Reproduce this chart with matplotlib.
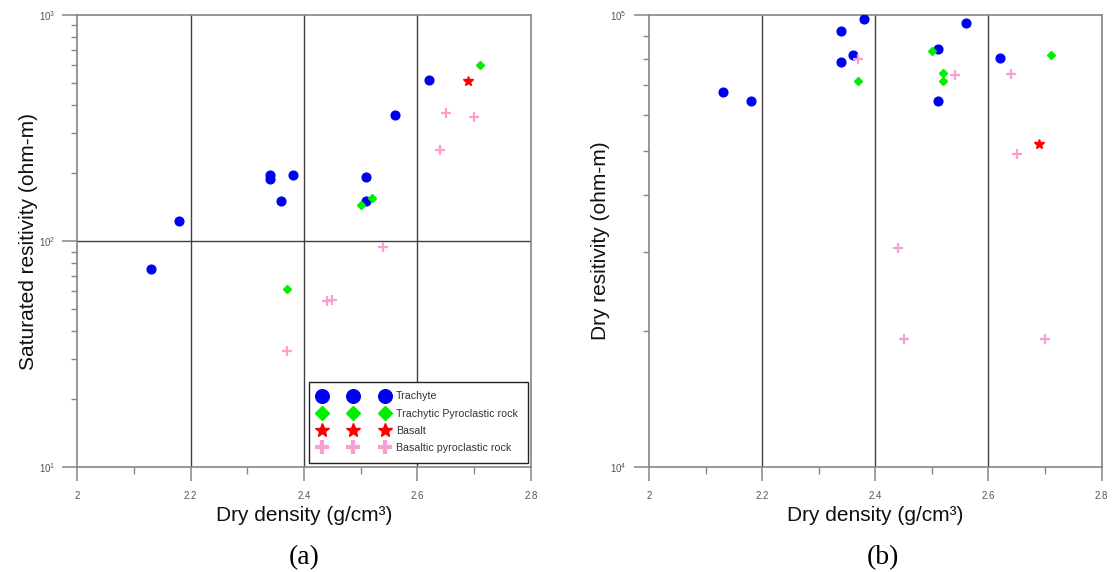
import matplotlib
matplotlib.use("Agg")
import matplotlib.pyplot as plt
from matplotlib.lines import Line2D
from matplotlib.ticker import LogLocator, NullFormatter, FixedLocator, FixedFormatter, MultipleLocator

plt.rcParams['font.family'] = ['Liberation Sans', 'DejaVu Sans']
plt.rcParams['mathtext.fontset'] = 'custom'
plt.rcParams['mathtext.rm'] = 'Liberation Sans'

# --- data -----------------------------------------------------------------
trachyte_density = [2.13, 2.18, 2.34, 2.34, 2.36, 2.38, 2.51, 2.51, 2.56, 2.62]
trachyte_saturated = [75, 123, 196, 188, 151, 196, 192, 150, 361, 516]
trachyte_dry = [67600, 64400, 92000, 78700, 81700, 98100, 84000, 64400, 96200, 80300]

pyro_trachytic_density_sat = [2.37, 2.50, 2.52, 2.71]
pyro_trachytic_saturated = [61.7, 144.5, 155, 600]
pyro_trachytic_density_dry = [2.37, 2.50, 2.52, 2.52, 2.71]
pyro_trachytic_dry = [71300, 83300, 74300, 71600, 81700]

basalt_density = [2.69]
basalt_saturated = [513]
basalt_dry = [51900]

pyro_basaltic_density = [2.37, 2.44, 2.45, 2.54, 2.64, 2.65, 2.70]
pyro_basaltic_saturated = [32.8, 54.2, 55.1, 94.3, 252, 370, 355]
pyro_basaltic_dry = [80000, 30600, 19200, 73600, 74100, 49400, 19200]

series_names = ["Trachyte", "Trachytic Pyroclastic rock", "Basalt",
                "Basaltic pyroclastic rock"]

x_ticks = [2.0, 2.2, 2.4, 2.6, 2.8]
x_tick_labels = ["2", "2.2", "2.4", "2.6", "2.8"]
y_ticks_a = [10, 100, 1000]
y_tick_labels_a = [r"$\mathdefault{10^{1}}$", r"$\mathdefault{10^{2}}$", r"$\mathdefault{10^{3}}$"]
y_ticks_b = [1e4, 1e5]
y_tick_labels_b = [r"$\mathdefault{10^{4}}$", r"$\mathdefault{10^{5}}$"]

# --- styling --------------------------------------------------------------
BLUE = "#0000f0"
GREEN = "#00ee00"
RED = "#ff0000"
PINK = "#f8a0d0"
SPINE = "#858585"
GRID = "#404040"

fig = plt.figure(figsize=(11.13, 5.72), dpi=100)
ax_a = fig.add_axes([0.0695, 0.183, 0.4074, 0.7907])
ax_b = fig.add_axes([0.5831, 0.183, 0.4067, 0.7907])


def style_axes(ax, yticks, ylabels, ylim, ylabel, hgrid):
    ax.set_xlim(2.0, 2.8)
    ax.set_yscale("log")
    ax.set_ylim(*ylim)
    ax.xaxis.set_major_locator(FixedLocator(x_ticks))
    ax.xaxis.set_major_formatter(FixedFormatter(x_tick_labels))
    ax.xaxis.set_minor_locator(MultipleLocator(0.1))
    ax.yaxis.set_major_locator(FixedLocator(yticks))
    ax.yaxis.set_major_formatter(FixedFormatter(ylabels))
    ax.yaxis.set_minor_locator(LogLocator(base=10, subs=range(2, 10)))
    ax.yaxis.set_minor_formatter(NullFormatter())
    for s in ax.spines.values():
        s.set_color(SPINE)
        s.set_linewidth(1.2)
    ax.tick_params(axis="x", which="major", direction="out", length=10.4,
                   width=1.1, color=SPINE, labelsize=7, labelcolor="#555555", pad=7)
    ax.tick_params(axis="x", which="minor", direction="out", length=4.8,
                   width=1.0, color=SPINE)
    ax.tick_params(axis="y", which="major", direction="out", length=11,
                   width=1.1, color=SPINE, labelsize=7, labelcolor="#555555", pad=5)
    ax.tick_params(axis="y", which="minor", direction="out", length=4.2,
                   width=1.0, color=SPINE)
    for xv in x_ticks[1:-1]:
        ax.axvline(xv, color=GRID, lw=1.0, zorder=1)
    if hgrid is not None:
        ax.axhline(hgrid, color=GRID, lw=1.0, zorder=1)
    ax.set_xlabel("Dry density (g/cm³)", fontsize=15, color="#111111")
    ax.set_ylabel(ylabel, fontsize=15, color="#111111")
    ax.xaxis.set_label_coords(0.5, -0.085)
    ax.yaxis.set_label_coords(-0.087, 0.5)


style_axes(ax_a, y_ticks_a, y_tick_labels_a, (10, 1000),
           "Saturated resitivity (ohm-m)", 100)
style_axes(ax_b, y_ticks_b, y_tick_labels_b, (1e4, 1e5),
           "Dry resitivity (ohm-m)", None)


def draw_points(ax, tx, ty, gx, gy, bx, by, px, py):
    ax.plot(tx, ty, ls="none", marker="o", ms=6.3, mfc=BLUE, mec=BLUE, zorder=3)
    ax.plot(gx, gy, ls="none", marker="D", ms=4.5, mfc=GREEN, mec=GREEN, zorder=4)
    ax.plot(bx, by, ls="none", marker="*", ms=7.5, mfc=RED, mec=RED, zorder=5)
    ax.plot(px, py, ls="none", marker="+", ms=7.5, mew=1.6, color=PINK, zorder=5)


draw_points(ax_a, trachyte_density, trachyte_saturated,
            pyro_trachytic_density_sat, pyro_trachytic_saturated,
            basalt_density, basalt_saturated,
            pyro_basaltic_density, pyro_basaltic_saturated)
draw_points(ax_b, trachyte_density, trachyte_dry,
            pyro_trachytic_density_dry, pyro_trachytic_dry,
            basalt_density, basalt_dry,
            pyro_basaltic_density, pyro_basaltic_dry)

# legend with three symbols per entry
handles = [
    Line2D([], [], ls="none", marker="o", ms=9.8, mfc=BLUE, mec=BLUE),
    Line2D([], [], ls="none", marker="D", ms=6.8, mfc=GREEN, mec=GREEN),
    Line2D([], [], ls="none", marker="*", ms=10, mfc=RED, mec=RED),
    Line2D([], [], ls="none", marker="+", ms=10, mew=3.0, color=PINK),
]
leg = ax_a.legend(handles, series_names, numpoints=3, loc="lower right",
                  bbox_to_anchor=(0.993, 0.010), borderaxespad=0,
                  fontsize=7.7, handlelength=6.55, handletextpad=0.72,
                  labelspacing=0.68, borderpad=0.9, fancybox=False,
                  framealpha=1, edgecolor="#222222")
leg.get_frame().set_linewidth(1.0)
for t in leg.get_texts():
    t.set_color("#333333")

fig.text(0.2730, 0.025, "(a)", fontsize=20, family="Liberation Serif",
         ha="center", va="center")
fig.text(0.7935, 0.025, "(b)", fontsize=20, family="Liberation Serif",
         ha="center", va="center")

fig.savefig("out.png", dpi=100)
